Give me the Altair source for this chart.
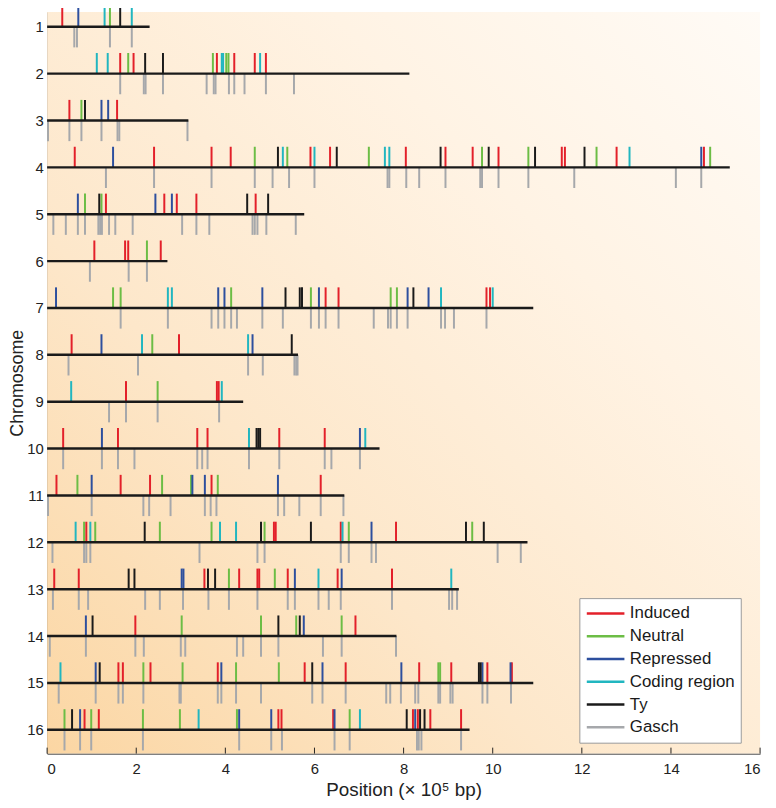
import altair as alt
import pandas as pd

# ---------------- data (positions in units of 10^5 bp) ----------------
CHROM_LENGTHS = [2.30, 8.13, 3.17, 15.32, 5.77, 2.70, 10.91, 5.63,
                 4.40, 7.46, 6.67, 10.78, 9.24, 7.84, 10.91, 9.48]
CATEGORIES = ["Induced", "Neutral", "Repressed", "Coding region", "Ty", "Gasch"]
COLORS = ["#e3202a", "#6cbd45", "#2d4f9e", "#21b6c0", "#1a1a1a", "#a6a8ab"]
X_TICKS = [0, 2, 4, 6, 8, 10, 12, 14, 16]
Y_TICKS = list(range(1, 17))

INDUCED = [
    [0.34],
    [1.64, 1.94, 3.81, 4.20, 4.66, 4.91],
    [0.50, 1.57],
    [0.62, 2.40, 3.69, 4.12, 5.91, 6.35, 8.05, 8.94, 9.55, 10.13, 11.55, 11.62, 12.78, 14.74],
    [1.32, 2.63, 2.91, 3.35, 4.68],
    [1.06, 1.75, 1.82, 2.55],
    [6.25, 6.54, 9.86, 9.94],
    [0.55, 2.96],
    [1.77, 3.81, 3.85],
    [0.36, 1.59, 3.37, 3.60, 5.21, 6.23],
    [0.21, 1.65, 2.31, 3.69, 6.14],
    [0.88, 5.09, 5.13, 6.59, 7.83],
    [0.16, 0.71, 3.53, 4.31, 4.72, 4.76, 5.40, 6.52, 7.74],
    [1.98, 6.92],
    [1.60, 1.70, 2.32, 3.83, 5.78, 6.70, 8.35, 9.07, 9.88, 10.43],
    [0.84, 1.16, 5.19, 5.26, 6.42, 8.21, 8.32, 8.60, 9.29],
]
NEUTRAL = [
    [1.41],
    [1.82, 3.72, 4.02, 4.07],
    [0.77],
    [4.66, 5.39, 7.22, 9.76, 10.80, 12.33, 14.88],
    [0.85, 1.22],
    [2.24],
    [1.48, 1.65, 4.13, 5.92, 7.71, 7.85],
    [2.36],
    [2.48],
    [],
    [0.68, 2.58, 3.23, 3.83],
    [0.83, 1.08, 2.53, 3.69, 4.88, 6.77, 9.54],
    [4.08, 5.11],
    [3.02, 4.80, 5.59, 6.61],
    [2.16, 3.04, 4.24, 5.20, 8.78, 8.82],
    [0.39, 0.99, 2.15, 2.98, 4.26, 6.79],
]
REPRESSED = [
    [0.70],
    [],
    [1.22, 1.37],
    [1.48, 14.68],
    [0.69, 2.43, 2.80],
    [],
    [0.20, 3.84, 3.98, 4.83, 6.10, 8.09, 8.56],
    [1.22, 4.61],
    [],
    [1.23, 7.02],
    [1.00, 3.26, 3.54, 5.18],
    [7.28],
    [3.02, 3.06, 5.56, 6.61],
    [0.87, 5.76],
    [1.09, 3.91, 6.18, 7.95, 9.77, 10.40],
    [0.74, 4.31, 5.03, 6.45, 8.26],
]
CODING = [
    [1.29, 1.90],
    [1.115, 1.36, 3.92, 3.95, 4.78],
    [],
    [5.29, 6.00, 7.58, 7.68, 13.07],
    [],
    [],
    [2.71, 2.80, 8.84, 10.00],
    [2.13, 4.51],
    [0.54, 3.92],
    [4.53, 7.14],
    [],
    [0.64, 0.97, 3.88, 4.24, 6.63],
    [6.09, 9.07],
    [],
    [0.30],
    [3.40, 7.02],
]
TY = [
    [1.64],
    [2.20, 2.60],
    [0.85],
    [5.18, 6.50, 8.83, 9.91, 10.95, 12.06],
    [1.17, 4.49, 4.96],
    [],
    [5.35, 5.67, 5.72, 8.22],
    [5.49],
    [],
    [4.70, 4.74, 4.78],
    [],
    [2.19, 4.80, 5.92, 9.40, 9.80],
    [1.83, 1.96, 3.61, 3.77],
    [1.02, 5.19, 5.67],
    [1.18, 5.95, 9.69, 9.73],
    [0.56, 8.07, 8.37, 8.47],
]
GASCH = [
    [0.61, 0.67, 1.41, 1.90],
    [1.64, 2.17, 2.21, 2.60, 3.58, 3.74, 3.78, 4.08, 4.20, 4.43, 4.91, 5.54],
    [0.02, 0.50, 0.77, 1.22, 1.58, 1.62, 3.15],
    [1.32, 2.40, 3.69, 4.66, 5.06, 5.43, 6.00, 7.64, 7.68, 8.06, 8.35, 8.94,
     9.72, 9.76, 10.13, 10.80, 11.83, 14.11, 14.68],
    [0.14, 0.42, 0.69, 0.85, 1.15, 1.19, 1.23, 1.39, 1.53, 1.92, 3.03, 3.35,
     3.64, 4.61, 4.66, 4.72, 4.92, 5.58],
    [0.96, 1.83, 2.24],
    [1.65, 2.71, 3.69, 3.84, 3.98, 4.13, 4.26, 4.83, 5.29, 5.92, 6.10, 6.25,
     6.54, 7.33, 7.65, 7.71, 7.85, 8.09, 8.84, 8.93, 9.13, 9.86],
    [0.48, 2.04, 4.51, 4.84, 5.55, 5.59, 5.62],
    [1.39, 1.77, 2.48, 3.86],
    [0.36, 1.23, 1.59, 1.96, 3.37, 3.48, 3.60, 4.53, 5.21, 6.23, 6.38, 7.02],
    [0.02, 1.00, 2.16, 2.29, 2.77, 3.54, 3.67, 3.80, 5.18, 5.32, 5.66, 6.14, 6.65],
    [0.12, 0.83, 0.88, 0.97, 3.42, 4.72, 4.88, 6.59, 6.77, 7.28, 7.38, 10.11, 10.63],
    [0.13, 0.71, 0.92, 2.20, 2.53, 3.05, 3.62, 4.08, 4.72, 5.40, 5.56, 6.09,
     6.32, 6.59, 7.74, 9.02, 9.09, 9.20],
    [0.06, 0.87, 1.98, 2.17, 3.00, 3.10, 4.26, 4.40, 4.80, 5.19, 6.19, 6.61, 7.83],
    [0.26, 1.09, 1.60, 1.70, 2.16, 2.97, 3.00, 3.83, 3.91, 4.24, 4.80, 5.95,
     6.18, 6.70, 7.61, 7.70, 7.94, 8.26, 8.33, 8.78, 8.82, 9.05, 9.10, 9.77,
     9.88, 10.41],
    [0.39, 0.74, 0.99, 2.15, 4.31, 5.03, 5.27, 6.45, 6.79, 8.30, 8.34, 8.40, 9.29],
]

# ---------------- tables ----------------
rows = []
for cat, arr in zip(CATEGORIES, [INDUCED, NEUTRAL, REPRESSED, CODING, TY, GASCH]):
    for i, positions in enumerate(arr):
        for p in positions:
            rows.append({"chrom": i + 1, "pos": p, "cat": cat})
marks_df = pd.DataFrame(rows)
lines_df = pd.DataFrame({"chrom": Y_TICKS, "length": CHROM_LENGTHS})
xt_df = pd.DataFrame({"v": X_TICKS})

# ---------------- layout ----------------
W, H = 720, 749
FONT = "Liberation Sans"
xs = alt.Scale(domain=[0, 16], nice=False, zero=False)
ys = alt.Scale(domain=[0.683, 16.507], reverse=True, nice=False, zero=False)

bg = alt.Chart(alt.Data(values=[{"a": 1}])).mark_rect(
    fill=alt.LinearGradient(
        gradient="linear", x1=0, y1=1, x2=1, y2=0,
        stops=[
            alt.GradientStop(offset=0, color="#fbd6a3"),
            alt.GradientStop(offset=0.35, color="#fde7ca"),
            alt.GradientStop(offset=0.7, color="#fff3e4"),
            alt.GradientStop(offset=1, color="#fffbf6"),
        ],
    ),
    strokeWidth=0,
).encode(x=alt.value(0), x2=alt.value(W), y=alt.value(0), y2=alt.value(H))

ticks = alt.Chart(marks_df).transform_calculate(
    y2="datum.cat === 'Gasch' ? datum.chrom + 0.44 : datum.chrom - 0.44"
).mark_rule(strokeWidth=2, strokeCap="butt").encode(
    x=alt.X("pos:Q", scale=xs, axis=alt.Axis(
        values=X_TICKS, format="d", title="Position (× 10⁵ bp)", grid=False,
        ticks=False, labelFontSize=15, titleFontSize=19, labelPadding=8,
        titlePadding=4, domainColor="#222222", labelColor="#222222",
        titleColor="#222222", titleFontWeight="normal")),
    y=alt.Y("chrom:Q", scale=ys, axis=alt.Axis(
        values=Y_TICKS, format="d", title="Chromosome", grid=False,
        ticks=False, labelFontSize=15, titleFontSize=18, labelPadding=4,
        titlePadding=0, domainColor="#222222", labelColor="#222222",
        titleColor="#222222", titleFontWeight="normal")),
    y2="y2:Q",
    color=alt.Color("cat:N", scale=alt.Scale(domain=CATEGORIES, range=COLORS),
                    legend=alt.Legend(
                        title=None, orient="none", legendX=537.5, legendY=592,
                        direction="vertical", symbolType="stroke",
                        symbolSize=1444, symbolStrokeWidth=2.5,
                        clipHeight=19, rowPadding=4, padding=6,
                        labelFontSize=17, labelOffset=4, labelFont=FONT,
                        labelColor="#1a1a1a", fillColor="white",
                        strokeColor="#9a9a9a")),
)

lines = alt.Chart(lines_df).transform_calculate(
    start="0"
).mark_rule(color="#1a1a1a", strokeWidth=2.5).encode(
    x=alt.X("start:Q", scale=xs), x2="length:Q", y=alt.Y("chrom:Q", scale=ys)
)

xt = alt.Chart(xt_df).mark_rule(color="#222222", strokeWidth=1).encode(
    x=alt.X("v:Q", scale=xs), y=alt.value(H), y2=alt.value(H - 6)
)

chart = alt.layer(bg, ticks, lines, xt).properties(
    width=W, height=H,
    autosize=alt.AutoSizeParams(type="none"),
    padding={"left": 39.5, "top": 0, "right": 8, "bottom": 50},
).configure_axis(
    labelFont=FONT, titleFont=FONT
).configure_view(strokeWidth=0)

chart.save("out.html", embed_options={"renderer": "svg", "actions": False})
